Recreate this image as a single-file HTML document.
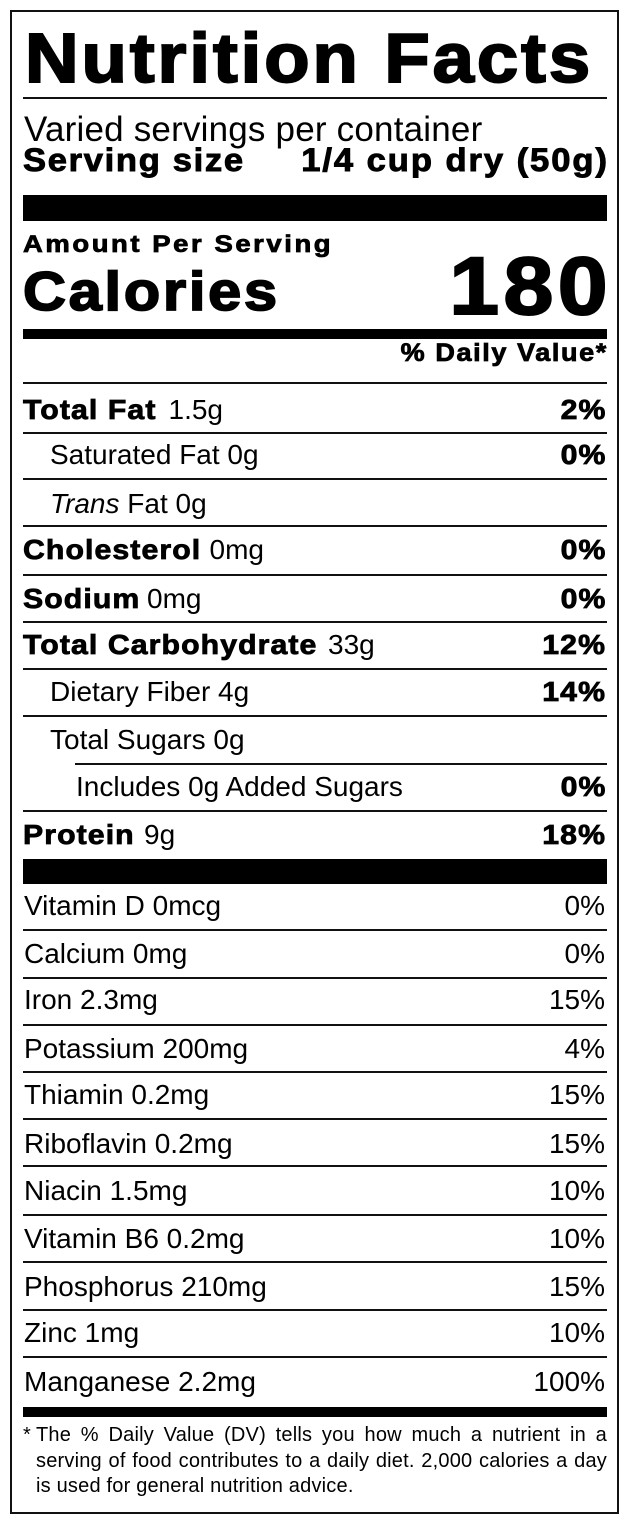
<!DOCTYPE html>
<html><head><meta charset="utf-8">
<style>
*{margin:0;padding:0;box-sizing:border-box}
html,body{width:630px;height:1525px;background:#fff;overflow:hidden}
body{position:relative;font-family:"Liberation Sans",Arial,sans-serif;color:#000}
.frame{position:absolute;left:10px;top:10px;width:609px;height:1504px;border:2px solid #111}
.t{position:absolute;white-space:nowrap;line-height:1}
.r{font-size:28px}
.bl{position:absolute;white-space:nowrap;line-height:1;font-size:28px;font-weight:700;-webkit-text-stroke:0.8px #000;letter-spacing:1px;transform:scaleX(1.08);transform-origin:left top;left:23px}
.hr{position:absolute;left:23px;width:584px;height:2px;background:#111}
.bar{position:absolute;left:23px;width:584px;background:#000}
.pb{position:absolute;right:24px;font-size:28px;line-height:1;font-weight:700;-webkit-text-stroke:0.8px #000;letter-spacing:1px;transform:scaleX(1.08);transform-origin:right top;white-space:nowrap}
.pr{position:absolute;right:25px;font-size:28px;line-height:1;white-space:nowrap}
.fn{position:absolute;left:36px;width:571px;font-size:20px;line-height:1;letter-spacing:0.2px;white-space:nowrap}
.j{text-align:justify;text-align-last:justify;white-space:normal}
</style></head><body>
<div class="frame"></div>

<div class="t" style="left:25px;top:22.7px;font-size:70px;font-weight:700;-webkit-text-stroke:2px #000;letter-spacing:2.8px;transform:scaleX(1.06);transform-origin:left top">Nutrition Facts</div>
<div class="hr" style="top:97px"></div>

<div class="t" style="left:24px;top:112.1px;font-size:35px;letter-spacing:0.2px">Varied servings per container</div>
<div class="t" style="left:23px;top:143.6px;font-size:32px;font-weight:700;-webkit-text-stroke:0.9px #000;letter-spacing:1.55px;transform:scaleX(1.08);transform-origin:left top">Serving size</div>
<div class="t" style="right:21.5px;top:143.6px;font-size:32px;font-weight:700;-webkit-text-stroke:0.9px #000;letter-spacing:1.8px;transform:scaleX(1.08);transform-origin:right top">1/4 cup dry (50g)</div>

<div class="bar" style="top:195px;height:26px"></div>

<div class="t" style="left:23px;top:233px;font-size:24.5px;font-weight:700;-webkit-text-stroke:0.8px #000;letter-spacing:2.3px;transform:scaleX(1.12);transform-origin:left top">Amount Per Serving</div>
<div class="t" style="left:23px;top:264.4px;font-size:55px;font-weight:700;-webkit-text-stroke:1.8px #000;letter-spacing:2.6px;transform:scaleX(1.08);transform-origin:left top">Calories</div>
<div class="t" style="right:18px;top:246.4px;font-size:81.5px;font-weight:700;-webkit-text-stroke:2px #000;letter-spacing:4px;transform:scaleX(1.1);transform-origin:right top">180</div>

<div class="bar" style="top:329px;height:10px"></div>

<div class="t" style="right:22px;top:340.5px;font-size:25px;font-weight:700;-webkit-text-stroke:0.8px #000;letter-spacing:1.5px;transform:scaleX(1.08);transform-origin:right top">% Daily Value*</div>
<div class="hr" style="top:382.3px"></div>

<div class="bl" style="top:395.6px">Total Fat</div>
<div class="t r" style="left:168.5px;top:395.6px">1.5g</div>
<div class="pb" style="top:395.6px">2%</div>
<div class="hr" style="top:432px"></div>

<div class="t r" style="left:50px;top:441.3px">Saturated Fat 0g</div>
<div class="pb" style="top:441.3px">0%</div>
<div class="hr" style="top:478.3px"></div>

<div class="t r" style="left:50px;top:489.6px"><i>Trans</i> Fat 0g</div>
<div class="hr" style="top:525px"></div>

<div class="bl" style="top:536.3px">Cholesterol</div>
<div class="t r" style="left:209.5px;top:536.3px">0mg</div>
<div class="pb" style="top:536.3px">0%</div>
<div class="hr" style="top:574px"></div>

<div class="bl" style="top:584.6px">Sodium</div>
<div class="t r" style="left:147px;top:584.6px">0mg</div>
<div class="pb" style="top:584.6px">0%</div>
<div class="hr" style="top:620.7px"></div>

<div class="bl" style="top:631.3px">Total Carbohydrate</div>
<div class="t r" style="left:328px;top:631.3px">33g</div>
<div class="pb" style="top:631.3px">12%</div>
<div class="hr" style="top:668.3px"></div>

<div class="t r" style="left:50px;top:678px">Dietary Fiber 4g</div>
<div class="pb" style="top:678px">14%</div>
<div class="hr" style="top:715px"></div>

<div class="t r" style="left:50px;top:726.3px">Total Sugars 0g</div>
<div class="hr" style="top:763.3px;left:75px;width:532px"></div>

<div class="t r" style="left:76px;top:773px">Includes 0g Added Sugars</div>
<div class="pb" style="top:773px">0%</div>
<div class="hr" style="top:810px"></div>

<div class="bl" style="top:821.3px">Protein</div>
<div class="t r" style="left:144px;top:821.3px">9g</div>
<div class="pb" style="top:821.3px">18%</div>

<div class="bar" style="top:859px;height:25px"></div>

<div class="t r" style="left:24px;top:892px">Vitamin D 0mcg</div>
<div class="pr" style="top:892px">0%</div>
<div class="hr" style="top:929px"></div>

<div class="t r" style="left:24px;top:940.3px">Calcium 0mg</div>
<div class="pr" style="top:940.3px">0%</div>
<div class="hr" style="top:977px"></div>

<div class="t r" style="left:24px;top:986.3px">Iron 2.3mg</div>
<div class="pr" style="top:986.3px">15%</div>
<div class="hr" style="top:1024px"></div>

<div class="t r" style="left:24px;top:1034.6px">Potassium 200mg</div>
<div class="pr" style="top:1034.6px">4%</div>
<div class="hr" style="top:1071px"></div>

<div class="t r" style="left:24px;top:1081.3px">Thiamin 0.2mg</div>
<div class="pr" style="top:1081.3px">15%</div>
<div class="hr" style="top:1118px"></div>

<div class="t r" style="left:24px;top:1129.6px">Riboflavin 0.2mg</div>
<div class="pr" style="top:1129.6px">15%</div>
<div class="hr" style="top:1165px"></div>

<div class="t r" style="left:24px;top:1176.8px">Niacin 1.5mg</div>
<div class="pr" style="top:1176.8px">10%</div>
<div class="hr" style="top:1214px"></div>

<div class="t r" style="left:24px;top:1224.6px">Vitamin B6 0.2mg</div>
<div class="pr" style="top:1224.6px">10%</div>
<div class="hr" style="top:1261px"></div>

<div class="t r" style="left:24px;top:1273px">Phosphorus 210mg</div>
<div class="pr" style="top:1273px">15%</div>
<div class="hr" style="top:1309px"></div>

<div class="t r" style="left:24px;top:1318.5px">Zinc 1mg</div>
<div class="pr" style="top:1318.5px">10%</div>
<div class="hr" style="top:1356px"></div>

<div class="t r" style="left:24px;top:1368px">Manganese 2.2mg</div>
<div class="pr" style="top:1368px">100%</div>

<div class="bar" style="top:1407px;height:10px"></div>

<div class="t" style="left:23px;top:1425.4px;font-size:20px">*</div>
<div class="fn j" style="top:1425.4px">The % Daily Value (DV) tells you how much a nutrient in a</div>
<div class="fn j" style="top:1451px">serving of food contributes to a daily diet. 2,000 calories a day</div>
<div class="fn" style="top:1476.4px">is used for general nutrition advice.</div>
</body></html>
